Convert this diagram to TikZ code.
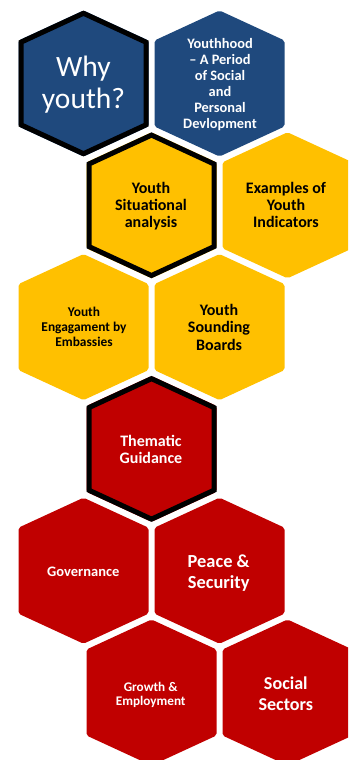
\documentclass[tikz,border=0pt]{standalone}
\usepackage{fontspec}
\setmainfont{Carlito}

\definecolor{hexblue}{RGB}{31,73,125}
\definecolor{hexyellow}{RGB}{255,192,0}
\definecolor{hexred}{RGB}{192,0,0}

% centred stack of lines; the box baseline is the first line's baseline
\newcommand\celllines[2]{\vtop{\baselineskip=#1\relax\lineskip=0pt\lineskiplimit=-100pt
  \halign{\hfil##\hfil\cr#2\crcr}}}

% plain honeycomb cell: centre x, centre y, colour
\newcommand\honeycell[3]{%
  \fill[#3, rounded corners=2pt]
    ({#1},{#2-73}) -- ({#1+65},{#2-43}) -- ({#1+65},{#2+43}) --
    ({#1},{#2+73}) -- ({#1-65},{#2+43}) -- ({#1-65},{#2-43}) -- cycle;}

% honeycomb cell with a heavy black frame
\newcommand\framedcell[3]{%
  \honeycell{#1}{#2}{#3}%
  \draw[cellframe]
    ({#1},{#2-70.2}) -- ({#1+62.5},{#2-41.3}) -- ({#1+62.5},{#2+41.3}) --
    ({#1},{#2+70.2}) -- ({#1-62.5},{#2+41.3}) -- ({#1-62.5},{#2-41.3}) -- cycle;}

\tikzset{
  cellframe/.style={draw=black, line width=5pt, line join=miter},
  celltext/.style={anchor=base, inner sep=0pt, align=center},
}

\begin{document}
\begin{tikzpicture}[x=1pt, y=-1pt]
  \useasboundingbox (0,0) rectangle (348,760);
  \clip (0,0) rectangle (348,760);

  % row 1
  \framedcell{83.5}{83.5}{hexblue}
  \honeycell{219.5}{83.5}{hexblue}
  % row 2
  \framedcell{151.5}{205.3}{hexyellow}
  \honeycell{287.5}{205.3}{hexyellow}
  % row 3
  \honeycell{83.5}{327.1}{hexyellow}
  \honeycell{219.5}{327.1}{hexyellow}
  % row 4
  \framedcell{151.5}{448.9}{hexred}
  % row 5
  \honeycell{83.5}{570.7}{hexred}
  \honeycell{219.5}{570.7}{hexred}
  % row 6
  \honeycell{151.5}{692.5}{hexred}
  \honeycell{287.5}{692.5}{hexred}

  % labels
  \node[celltext, text=white, font={\fontsize{29.5}{32}\selectfont}] (why) at (83.5,76)
    {\celllines{32.3pt}{Why\cr youth?}};
  \node[celltext, text=white, font={\fontsize{14.4}{16}\selectfont\bfseries}] (youthhood) at (220,48.3)
    {\celllines{16pt}{Youthhood\cr – A Period\cr of Social\cr and\cr Personal\cr Devlopment}};
  \node[celltext, text=black, font={\fontsize{16}{17}\selectfont\bfseries}] (situation) at (151,193.3)
    {\celllines{17.2pt}{Youth\cr Situational\cr analysis}};
  \node[celltext, text=black, font={\fontsize{16}{17}\selectfont\bfseries}] (examples) at (286,193.3)
    {\celllines{17.2pt}{Examples of\cr Youth\cr Indicators}};
  \node[celltext, text=black, font={\fontsize{13.4}{15}\selectfont\bfseries}] (embassies) at (84,316)
    {\celllines{15pt}{Youth\cr Engagament by\cr Embassies}};
  \node[celltext, text=black, font={\fontsize{16}{17.5}\selectfont\bfseries}] (sounding) at (219,315)
    {\celllines{17.5pt}{Youth\cr Sounding\cr Boards}};
  \node[celltext, text=white, font={\fontsize{16}{17.3}\selectfont\bfseries}] (thematic) at (151,446)
    {\celllines{17.3pt}{Thematic\cr Guidance}};
  \node[celltext, text=white, font={\fontsize{14.5}{16}\selectfont\bfseries}] (governance) at (83.3,576)
    {Governance};
  \node[celltext, text=white, font={\fontsize{18.4}{21}\selectfont\bfseries}] (peace) at (218.7,567.3)
    {\celllines{21pt}{Peace \&\cr Security}};
  \node[celltext, text=white, font={\fontsize{13.2}{14}\selectfont\bfseries}] (growth) at (150.7,691)
    {\celllines{14pt}{Growth \&\cr Employment}};
  \node[celltext, text=white, font={\fontsize{18.1}{21}\selectfont\bfseries}] (social) at (285.8,689)
    {\celllines{21pt}{Social\cr Sectors}};
\end{tikzpicture}
\end{document}
